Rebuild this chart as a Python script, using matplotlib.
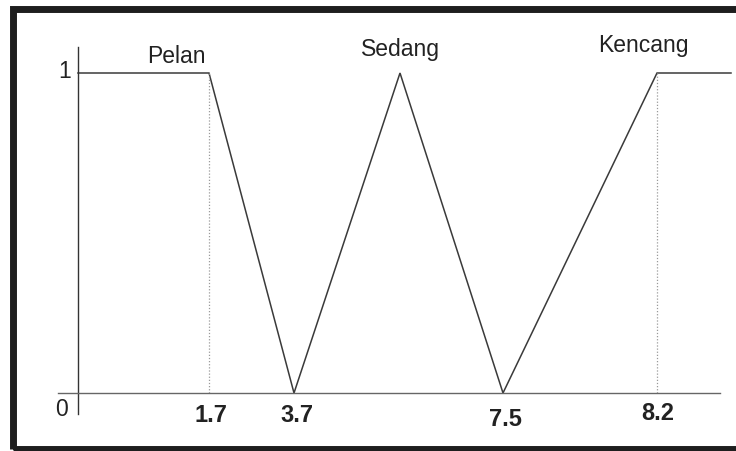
import numpy as np
import matplotlib
matplotlib.use('Agg')
import matplotlib.pyplot as plt
from matplotlib.patches import Rectangle

# fungsi keanggotaan kecepatan: Pelan, Sedang, Kencang
x_pts = [0, 1.7, 3.7, 5.6, 7.5, 8.2, 9.0]
mu = [1, 1, 0, 1, 0, 1, 1]
tick_vals = [1.7, 3.7, 7.5, 8.2]
tick_labels = ['1.7', '3.7', '7.5', '8.2']
guide_vals = [1.7, 8.2]
set_names = ['Pelan', 'Sedang', 'Kencang']
set_anchor = [1.7, 5.6, 8.2]

# layout: sumbu x digambar tidak berskala (posisi piksel tiap titik)
W, H = 736, 451
pos_px = [78, 209, 294, 400, 503, 657, 731]
zero_px, unit_px = 58, 320
tick_dx = [2, 3, 2, 1]
tick_dy = [-23, -23, -27, -20]
name_off = [(-33, 10), (0, 17), (-14, 21)]

plt.rcParams['font.family'] = ['Liberation Sans', 'DejaVu Sans']
line_c = '#3a3a3a'
text_c = '#222222'


def stretch(v, xp, fp):
    v = np.asarray(v, dtype=float)
    out = np.interp(v, xp, fp)
    lo = v < xp[0]
    hi = v > xp[-1]
    out = np.where(lo, fp[0] + (v - xp[0]) * (fp[1] - fp[0]) / (xp[1] - xp[0]), out)
    out = np.where(hi, fp[-1] + (v - xp[-1]) * (fp[-1] - fp[-2]) / (xp[-1] - xp[-2]), out)
    return out


def fwd(v):
    return stretch(v, x_pts, pos_px)


def inv(p):
    return stretch(p, pos_px, x_pts)


fig = plt.figure(figsize=(W / 100, H / 100), dpi=100)
fig.patch.set_facecolor('white')
ax = fig.add_axes([0, 0, 1, 1])
ax.set_xscale('function', functions=(fwd, inv))
ax.set_xlim(float(inv(0)), float(inv(W)))
ax.set_ylim(-zero_px / unit_px, (H - zero_px) / unit_px)

# garis fungsi keanggotaan
ax.plot(x_pts, mu, color=line_c, lw=1.1, solid_joinstyle='miter')
for g in guide_vals:
    ax.plot([g, g], [0, 1], color='#9a9a9a', lw=0.9, ls=(0, (1, 1.5)))

# sumbu
for s in ['top', 'right']:
    ax.spines[s].set_visible(False)
ax.spines['left'].set_position(('data', 0))
ax.spines['bottom'].set_position(('data', 0))
ax.spines['left'].set_bounds(-0.066, 1.081)
ax.spines['bottom'].set_bounds(float(inv(58)), float(inv(720)))
ax.spines['left'].set_color('#333333')
ax.spines['bottom'].set_color('#666666')
ax.spines['left'].set_linewidth(1.0)
ax.spines['bottom'].set_linewidth(1.0)
ax.set_xticks([])
ax.set_yticks([])

for v, lab, dx, dy in zip(tick_vals, tick_labels, tick_dx, tick_dy):
    ax.annotate(lab, (v, 0), xytext=(dx, dy), textcoords='offset pixels',
                ha='center', va='center', fontsize=17, fontweight='bold',
                color=text_c)

ax.annotate('1', (0, 1), xytext=(-13, 1), textcoords='offset pixels',
            ha='center', va='center', fontsize=16.5, color=text_c)
ax.annotate('0', (0, 0), xytext=(-16, -16), textcoords='offset pixels',
            ha='center', va='center', fontsize=16.5, color=text_c)

for name, a, (dx, dy) in zip(set_names, set_anchor, name_off):
    ax.annotate(name, (a, 1), xytext=(dx, dy), textcoords='offset pixels',
                ha='center', va='baseline', fontsize=16.5, color=text_c)

# bingkai hitam
fig.patches.append(Rectangle((12.5 / W, 2.5 / H), (760 - 12.5) / W,
                             (H - 8.5 - 2.5) / H, transform=fig.transFigure,
                             fill=False, edgecolor='#1e1e1e', lw=5.0))

fig.savefig('out.png', dpi=100)
